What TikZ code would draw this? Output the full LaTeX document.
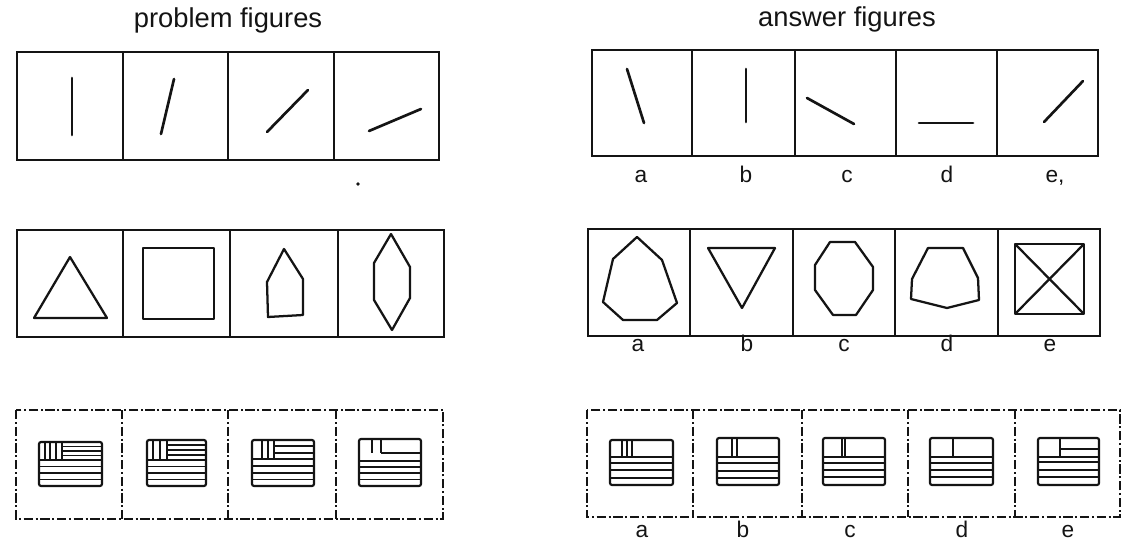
\documentclass[tikz,border=0pt]{standalone}
\usepackage{fontspec}
\setmainfont{Liberation Sans}
\usepackage{tikz}
\definecolor{PuzInk}{RGB}{20, 20, 20}
\tikzset{
  frame/.style={draw=PuzInk, line width=1.2pt},
  dframe/.style={draw=PuzInk, line width=1pt, dash pattern=on 7pt off 2pt on 1.5pt off 2pt},
  outline/.style={draw=PuzInk, line width=1.7pt, line join=round},
  stroke/.style={draw=PuzInk, line width=2pt, line cap=round},
  flagrim/.style={draw=PuzInk, line width=1.6pt, rounded corners=1.5pt},
  stripe/.style={draw=PuzInk, line width=1.2pt},
  heading/.style={anchor=base, font=\fontsize{20.5}{24}\selectfont, text=PuzInk, inner sep=0pt},
  choice/.style={anchor=base, font=\fontsize{17}{20}\selectfont, text=PuzInk, inner sep=0pt}
}

\begin{document}
\begin{tikzpicture}[x=0.75pt,y=-0.75pt]
  \path[use as bounding box] (0,0) rectangle (1127,541);
  \fill[white] (0,0) rectangle (1127,541);

  % headings
  \node[heading] (probhead) at (228,28) {problem figures};
  \node[heading] (anshead) at (847,27) {answer figures};

  % row 1: problem figures
  \draw[frame] (17,52) rectangle (439,160);
  \foreach \x in {123,228,334} \draw[frame] (\x,52) -- (\x,160);
  \draw[stroke] (72,78) -- (72,135);
  \draw[stroke] (161,134) -- (174,79);
  \draw[stroke] (267,132) -- (308,90);
  \draw[stroke] (369,131) -- (421,109);
  \fill[PuzInk] (358,184) circle (1.8);

  % row 1: answer figures
  \draw[frame] (592,50) rectangle (1098,156);
  \foreach \x in {692,795,896,997} \draw[frame] (\x,50) -- (\x,156);
  \draw[stroke] (627,69) -- (644,123);
  \draw[stroke] (746,69) -- (746,122);
  \draw[stroke] (807,98) -- (854,124);
  \draw[stroke] (919,123) -- (973,123);
  \draw[stroke] (1044,122) -- (1083,81);
  \node[choice] (r1a) at (641,183) {a};
  \node[choice] (r1b) at (746,183) {b};
  \node[choice] (r1c) at (847,183) {c};
  \node[choice] (r1d) at (947,183) {d};
  \node[choice] (r1e) at (1055,183) {e,};

  % row 2: problem figures
  \draw[frame] (17,230) rectangle (444,337);
  \foreach \x in {123,230,338} \draw[frame] (\x,230) -- (\x,337);
  \draw[outline] (70,257) -- (107,318) -- (34,318) -- cycle;
  \draw[outline] (143,248) rectangle (214,319);
  \draw[outline] (284,249) -- (303,279) -- (303,315) -- (268,317) -- (267,282) -- cycle;
  \draw[outline] (391,234) -- (410,267) -- (410,298) -- (392,330) -- (374,300) -- (374,263) -- cycle;

  % row 2: answer figures
  \draw[frame] (588,229) rectangle (1100,336);
  \foreach \x in {690,793,895,998} \draw[frame] (\x,229) -- (\x,336);
  \draw[outline] (637,237) -- (662,260) -- (677,303) -- (657,320) -- (623,320) -- (603,302) -- (613,259) -- cycle;
  \draw[outline] (708,248) -- (775,248) -- (742,308) -- cycle;
  \draw[outline] (830,242) -- (855,242) -- (873,267) -- (873,290) -- (856,315) -- (833,315) -- (815,290) -- (815,265) -- cycle;
  \draw[outline] (928,248) -- (963,248) -- (978,278) -- (979,300) -- (947,308) -- (911,299) -- (912,279) -- cycle;
  \draw[outline] (1015,244) rectangle (1084,314);
  \draw[outline] (1015,244) -- (1084,314);
  \draw[outline] (1015,314) -- (1084,244);
  \node[choice] (r2a) at (638,352) {a};
  \node[choice] (r2b) at (747,352) {b};
  \node[choice] (r2c) at (844,352) {c};
  \node[choice] (r2d) at (947,352) {d};
  \node[choice] (r2e) at (1050,352) {e};

  % row 3: problem figures
  \draw[dframe] (16,410) rectangle (443,519);
  \foreach \x in {122,228,336} \draw[dframe] (\x,410) -- (\x,519);

  % flag 1
  \draw[flagrim] (39,442) rectangle (102,486);
  \foreach \x in {45,50,56,62} \draw[stripe] (\x,442) -- (\x,460);
  \foreach \y in {446.5,451,455.5} \draw[stripe] (62,\y) -- (102,\y);
  \foreach \y in {460,466.5,473,479.5} \draw[stripe] (39,\y) -- (102,\y);

  % flag 2
  \draw[flagrim] (147,440) rectangle (206,486);
  \foreach \x in {153,160,167} \draw[stripe] (\x,440) -- (\x,460);
  \foreach \y in {445,450,455} \draw[stripe] (167,\y) -- (206,\y);
  \foreach \y in {460,466.5,473,479.5} \draw[stripe] (147,\y) -- (206,\y);

  % flag 3
  \draw[flagrim] (252,440) rectangle (314,486);
  \foreach \x in {262,268,274} \draw[stripe] (\x,440) -- (\x,459);
  \foreach \y in {446,453} \draw[stripe] (274,\y) -- (314,\y);
  \foreach \y in {459,466,473,479.5} \draw[stripe] (252,\y) -- (314,\y);

  % flag 4
  \draw[flagrim] (359,439) rectangle (421,486);
  \foreach \x in {372,381} \draw[stripe] (\x,439) -- (\x,453);
  \draw[stripe] (381,453) -- (421,453);
  \foreach \y in {461,467,473,479.5} \draw[stripe] (359,\y) -- (421,\y);

  % row 3: answer figures
  \draw[dframe] (587,410) rectangle (1120,517);
  \foreach \x in {693,802,908,1015} \draw[dframe] (\x,410) -- (\x,517);

  % answer a
  \draw[flagrim] (610,440) rectangle (673,485);
  \foreach \x in {622,627,632} \draw[stripe] (\x,440) -- (\x,457);
  \foreach \y in {457,463,470,478} \draw[stripe] (610,\y) -- (673,\y);

  % answer b
  \draw[flagrim] (717,438) rectangle (779,485);
  \foreach \x in {732,737} \draw[stripe] (\x,438) -- (\x,457);
  \foreach \y in {457,463,471,478} \draw[stripe] (717,\y) -- (779,\y);

  % answer c
  \draw[flagrim] (823,438) rectangle (885,485);
  \foreach \x in {842,845} \draw[stripe] (\x,438) -- (\x,457);
  \foreach \y in {457,463,470,477} \draw[stripe] (823,\y) -- (885,\y);

  % answer d
  \draw[flagrim] (930,438) rectangle (993,485);
  \draw[stripe] (953,438) -- (953,457);
  \foreach \y in {457,463,470,477} \draw[stripe] (930,\y) -- (993,\y);

  % answer e
  \draw[flagrim] (1038,438) rectangle (1099,485);
  \draw[stripe] (1060,438) -- (1060,457);
  \draw[stripe] (1060,449) -- (1099,449);
  \foreach \y in {457,462,470,477} \draw[stripe] (1038,\y) -- (1099,\y);

  \node[choice] (r3a) at (642,537) {a};
  \node[choice] (r3b) at (743,537) {b};
  \node[choice] (r3c) at (850,537) {c};
  \node[choice] (r3d) at (962,537) {d};
  \node[choice] (r3e) at (1068,537) {e};
\end{tikzpicture}
\end{document}
